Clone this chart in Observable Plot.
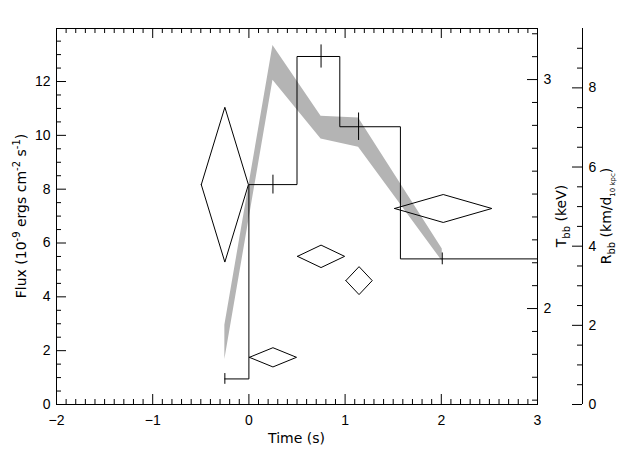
<!DOCTYPE html>
<html>
<head>
<meta charset="utf-8">
<script src="https://cdn.jsdelivr.net/npm/d3@7"></script>
<script src="https://cdn.jsdelivr.net/npm/@observablehq/plot@0.6"></script>
<style>
  body { margin: 0; background: #fff; }
  #chart { position: relative; width: 640px; height: 457px; background: #fff; }
  #chart svg { position: absolute; left: 0; top: 0; }
</style>
</head>
<body>
<div id="chart"></div>
<script>
// ---- Flux histogram (IDL-style steps, with error bars) ----
const fluxTime     = [-0.25, 0.25, 0.75, 1.14, 2.01];
const fluxBinStart = [-0.25, 0.0, 0.5, 0.945, 1.575];
const fluxBinEnd   = [0.0, 0.5, 0.945, 1.575, 3.0];
const fluxValue    = [0.95, 8.17, 12.93, 10.32, 5.41];
const fluxErr      = [0.2, 0.35, 0.43, 0.51, 0.22];

// ---- Blackbody temperature kT (keV), diamonds ----
const kTTime      = [-0.25, 0.25, 0.75, 1.145, 2.02];
const kTHalfWidth = [0.245, 0.245, 0.245, 0.137, 0.505];
const kTValue     = [2.541, 1.787, 2.228, 2.122, 2.437];
const kTErr       = [0.338, 0.042, 0.049, 0.061, 0.061];

// ---- Blackbody radius (km / d10kpc), grey band ----
const radTime = [-0.25, 0.25, 0.75, 1.14, 2.01];
const radLow  = [1.14, 8.19, 6.71, 6.50, 3.62];
const radHigh = [2.00, 9.07, 7.28, 7.24, 3.93];

// ---- Tick labels ----
const xMajor    = [-2, -1, 0, 1, 2, 3];
const fluxMajor = [0, 2, 4, 6, 8, 10, 12];
const kTMajor   = [2, 3];
const radMajor  = [0, 2, 4, 6, 8];

const xMinor    = d3.range(-20, 31).map(d => d / 10).filter(d => !Number.isInteger(d));
const fluxMinor = d3.range(1, 28).map(d => d / 2).filter(d => d % 2 !== 0);
const kTMinor   = d3.range(16, 33).map(d => d / 10).filter(d => !kTMajor.includes(d));
const radMinor  = d3.range(1, 19).map(d => d / 2).filter(d => d % 2 !== 0);

const FONT_TICK  = "'Liberation Sans', Arial, sans-serif";
const FONT_TITLE = "'DejaVu Sans', sans-serif";
const W = 640, H = 457, mL = 56, mR = 103, mT = 28, mB = 53;
const FW = W - mL - mR, FH = H - mT - mB;

const base = {
  width: W, height: H, marginLeft: mL, marginRight: mR, marginTop: mT, marginBottom: mB,
  style: { background: "transparent", fontFamily: FONT_TICK, fontSize: "14px", color: "black", overflow: "visible" }
};
const xScale = { domain: [-2, 3], axis: null };
const fmt = d => (d < 0 ? "\u2212" + Math.abs(d) : String(d));

const stepPts = fluxValue.flatMap((v, i) => [
  { x: fluxBinStart[i], y: v }, { x: fluxBinEnd[i], y: v }
]);
const errs = fluxTime.map((t, i) => ({ t, lo: fluxValue[i] - fluxErr[i], hi: fluxValue[i] + fluxErr[i] }));
const diamondPts = kTTime.flatMap((t, i) => {
  const w = kTHalfWidth[i], v = kTValue[i], e = kTErr[i];
  return [[t - w, v], [t, v + e], [t + w, v], [t, v - e], [t - w, v]].map(([x, y]) => ({ id: i, x, y }));
});
const band = radTime.map((t, i) => ({ t, lo: radLow[i], hi: radHigh[i] }));

// Radius layer (bottom)
const pR = Plot.plot({
  ...base, x: xScale, y: { domain: [0, 9.5], axis: null },
  marks: [
    Plot.areaY(band, { x: "t", y1: "lo", y2: "hi", fill: "#b4b4b4" }),
    Plot.ruleX([3], { dx: 45, stroke: "black" }),
    Plot.ruleY(radMajor, { insetLeft: FW - 10, dx: 45, stroke: "black" }),
    Plot.ruleY(radMinor, { insetLeft: FW - 5, dx: 45, stroke: "black" }),
    Plot.text(radMajor, { x: 3, y: d => d, dx: 51, textAnchor: "start", text: d => String(d), fill: "black" })
  ]
});

// Flux layer
const pF = Plot.plot({
  ...base, x: xScale, y: { domain: [0, 13.97], axis: null },
  marks: [
    Plot.frame({ stroke: "black" }),
    Plot.ruleX(xMajor, { insetTop: FH - 10, stroke: "black" }),
    Plot.ruleX(xMinor, { insetTop: FH - 5, stroke: "black" }),
    Plot.ruleX(xMajor, { insetBottom: FH - 10, stroke: "black" }),
    Plot.ruleX(xMinor, { insetBottom: FH - 5, stroke: "black" }),
    Plot.ruleY(fluxMajor, { insetRight: FW - 10, stroke: "black" }),
    Plot.ruleY(fluxMinor, { insetRight: FW - 5, stroke: "black" }),
    Plot.line(stepPts, { x: "x", y: "y", stroke: "black", strokeWidth: 1 }),
    Plot.ruleX(errs, { x: "t", y1: "lo", y2: "hi", stroke: "black" }),
    Plot.text(xMajor, { x: d => d, y: 0, dy: 16, text: fmt, fill: "black" }),
    Plot.text(fluxMajor, { x: -2, y: d => d, dx: -6, textAnchor: "end", text: d => String(d), fill: "black" })
  ]
});

// Temperature layer
const pT = Plot.plot({
  ...base, x: xScale, y: { domain: [1.581, 3.223], axis: null },
  marks: [
    Plot.ruleY(kTMajor, { insetLeft: FW - 10, stroke: "black" }),
    Plot.ruleY(kTMinor, { insetLeft: FW - 5, stroke: "black" }),
    Plot.line(diamondPts, { x: "x", y: "y", z: "id", stroke: "black", strokeWidth: 1 }),
    Plot.text(kTMajor, { x: 3, y: d => d, dx: 6, textAnchor: "start", text: d => String(d), fill: "black" })
  ]
});

const chart = document.getElementById("chart");
chart.append(pR, pF, pT);

// Titles layer
const svg = d3.select(chart).append("svg").attr("width", W).attr("height", H);
function title(x, y, rot, parts) {
  const t = svg.append("text")
    .attr("transform", `translate(${x},${y}) rotate(${rot})`)
    .attr("text-anchor", "middle")
    .attr("fill", "black")
    .style("font-family", FONT_TITLE)
    .style("font-size", "14px");
  let shift = 0;
  parts.forEach(([s, kind]) => {
    const ts = t.append("tspan").text(s);
    let target = 0;
    if (kind === "sup") { target = -6; ts.style("font-size", "10px"); }
    if (kind === "sub") { target = 4; ts.style("font-size", "10px"); }
    if (kind === "sub2") { target = 4; ts.style("font-size", "7px"); }
    ts.attr("dy", target - shift);
    shift = target;
  });
}
title(296.5, 443, 0, [["Time (s)"]]);
title(26, 216, -90, [["Flux (10"], ["-9", "sup"], [" ergs cm"], ["-2", "sup"], [" s"], ["-1", "sup"], [")"]]);
title(566, 216, -90, [["T"], ["bb", "sub"], [" (keV)"]]);
title(611, 216, -90, [["R"], ["bb", "sub"], [" (km/d"], ["10 kpc", "sub2"], [")"]]);
</script>
</body>
</html>
